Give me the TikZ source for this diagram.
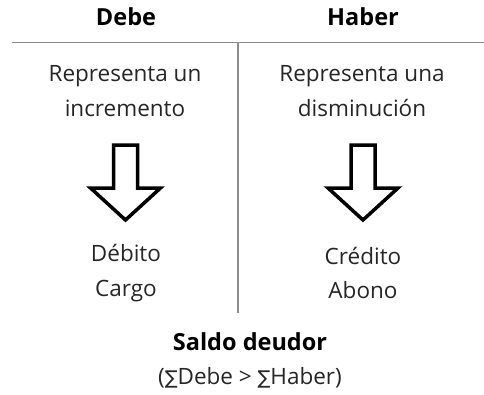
\documentclass[tikz,border=0pt]{standalone}
\usepackage{fontspec}
\setmainfont{Open Sans}
\newfontfamily\symfont{DejaVu Sans}
\usepackage{tikz}
\usetikzlibrary{positioning}

\tikzset{
  cuenta/.style={font=\fontsize{22.5}{34.5}\selectfont, text=black!85, align=center, inner sep=0pt},
  titulo/.style={font=\fontsize{23.5}{27}\selectfont\bfseries, inner sep=0pt},
  raya/.style={draw=black!45, line width=1.4pt},
  flecha/.style={draw=black, line width=3.5pt, fill=white, line join=miter}
}
\newcommand{\sumsym}{{\symfont\fontsize{19}{22}\selectfont ∑}}

\begin{document}
\begin{tikzpicture}[x=1pt, y=-1pt]
        \useasboundingbox (0, 0) rectangle (484, 394);
        % cabeceras
        \node [titulo] (debe) at (126, 17) {Debe};
        \node [titulo] (haber) at (363, 17) {Haber};
        % la T de la cuenta
        \coordinate (izq) at (12, 42.5);
        \coordinate (der) at (484, 42.5);
        \coordinate (arriba) at (238, 42.5);
        \coordinate (abajo) at (238, 313);
        \draw [raya] (izq) -- (der);
        \draw [raya] (arriba) -- (abajo);
        % textos de cada lado
        \node [cuenta] (incr) at (125, 91) {Representa un\\incremento};
        \node [cuenta] (dism) at (362, 91) {Representa una\\disminución};
        \node [cuenta] (cargo) at (126, 273) {Débito\\Cargo};
        \node [cuenta] (abono) at (363, 273) {Crédito\\Abono};
        % flechas huecas
        \foreach \cx in {125.5, 363} {
            \draw [flecha] (\cx-12, 145) -- (\cx+12, 145) -- (\cx+12, 188) -- (\cx+35, 188)
                -- (\cx, 220) -- (\cx-35, 188) -- (\cx-12, 188) -- cycle;
        }
        % saldo
        \node [titulo] (saldo) at (250, 342) {Saldo deudor};
        \node [cuenta] (regla) at (250, 378) {(\sumsym Debe > \sumsym Haber)};
    \end{tikzpicture}
\end{document}
